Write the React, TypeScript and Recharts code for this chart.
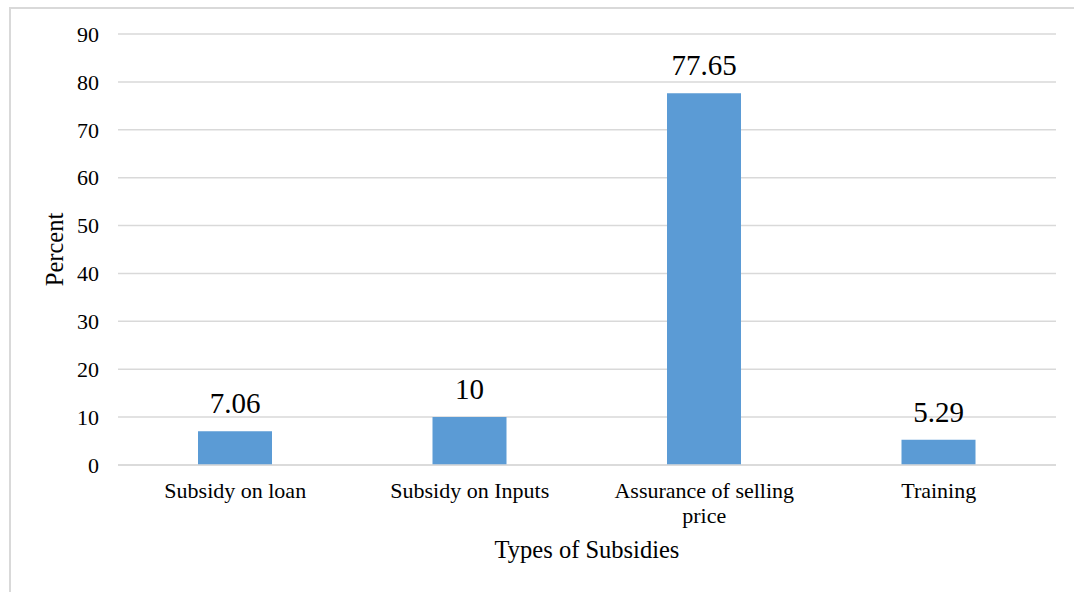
import { BarChart, Bar, XAxis, YAxis, CartesianGrid, LabelList, Label } from 'recharts'

// Survey result: share of respondents preferring each subsidy type
const categories = ['Subsidy on loan', 'Subsidy on Inputs', 'Assurance of selling price', 'Training']
const percents = [7.06, 10, 77.65, 5.29]
const yTicks = [0, 10, 20, 30, 40, 50, 60, 70, 80, 90]

// long category names break after "selling"
const tickLines: Record<string, string[]> = {
  'Assurance of selling price': ['Assurance of selling', 'price'],
}

const data = categories.map((name, i) => ({ name, value: percents[i] }))

const FONT = 'Liberation Serif, DejaVu Serif, serif'

function CategoryTick(props: any) {
  const { x, y, payload } = props
  const lines = tickLines[payload.value] || [payload.value]
  return (
    <text x={x} y={y} textAnchor="middle" fill="#000" style={{ fontFamily: FONT, fontSize: 22 }}>
      {lines.map((line, i) => (
        <tspan key={i} x={x} dy={i === 0 ? 31 : 25}>
          {line}
        </tspan>
      ))}
    </text>
  )
}

function PercentTitle(props: any) {
  const { viewBox } = props
  const cy = viewBox.y + viewBox.height / 2
  const cx = 63
  return (
    <text
      x={cx}
      y={cy}
      textAnchor="middle"
      transform={`rotate(-90 ${cx} ${cy})`}
      fill="#000"
      style={{ fontFamily: FONT, fontSize: 24.5 }}
    >
      Percent
    </text>
  )
}

export default function App() {
  return (
    <div style={{ position: 'absolute', left: 0, top: 0, width: 1074, height: 592, background: '#fff', overflow: 'hidden', fontFamily: FONT }}>
      <div style={{
        position: 'absolute',
        left: 9,
        top: 7,
        width: 1080,
        height: 600,
        border: '2px solid #d9d9d9',
      }} />
      <div style={{ position: 'absolute', left: 0, top: 0 }}>
        <BarChart
          width={1074}
          height={592}
          data={data}
          margin={{ top: 34, right: 18, bottom: 0, left: 0 }}
          barSize={74}
          style={{ fontFamily: FONT }}
        >
          <CartesianGrid vertical={false} stroke="#d9d9d9" strokeWidth={1.5} />
          <XAxis
            dataKey="name"
            axisLine={{ stroke: '#d9d9d9', strokeWidth: 1.5 }}
            tickLine={false}
            tickSize={0}
            tickMargin={2}
            height={127}
            interval={0}
            tick={<CategoryTick />}
          >
            <Label
              value="Types of Subsidies"
              position="insideBottom"
              offset={34}
              fill="#000"
              style={{ fontFamily: FONT, fontSize: 24.5 }}
            />
          </XAxis>
          <YAxis
            domain={[0, 90]}
            ticks={yTicks}
            width={118}
            axisLine={false}
            tickLine={false}
            tickSize={0}
            tickMargin={19}
            tick={{ fill: '#000', style: { fontFamily: FONT, fontSize: 22 } }}
          >
            <Label content={<PercentTitle />} />
          </YAxis>
          <Bar dataKey="value" fill="#5b9bd5" isAnimationActive={false}>
            <LabelList
              dataKey="value"
              position="top"
              offset={18}
              fill="#000"
              style={{ fontFamily: FONT, fontSize: 29 }}
            />
          </Bar>
        </BarChart>
      </div>
    </div>
  )
}
